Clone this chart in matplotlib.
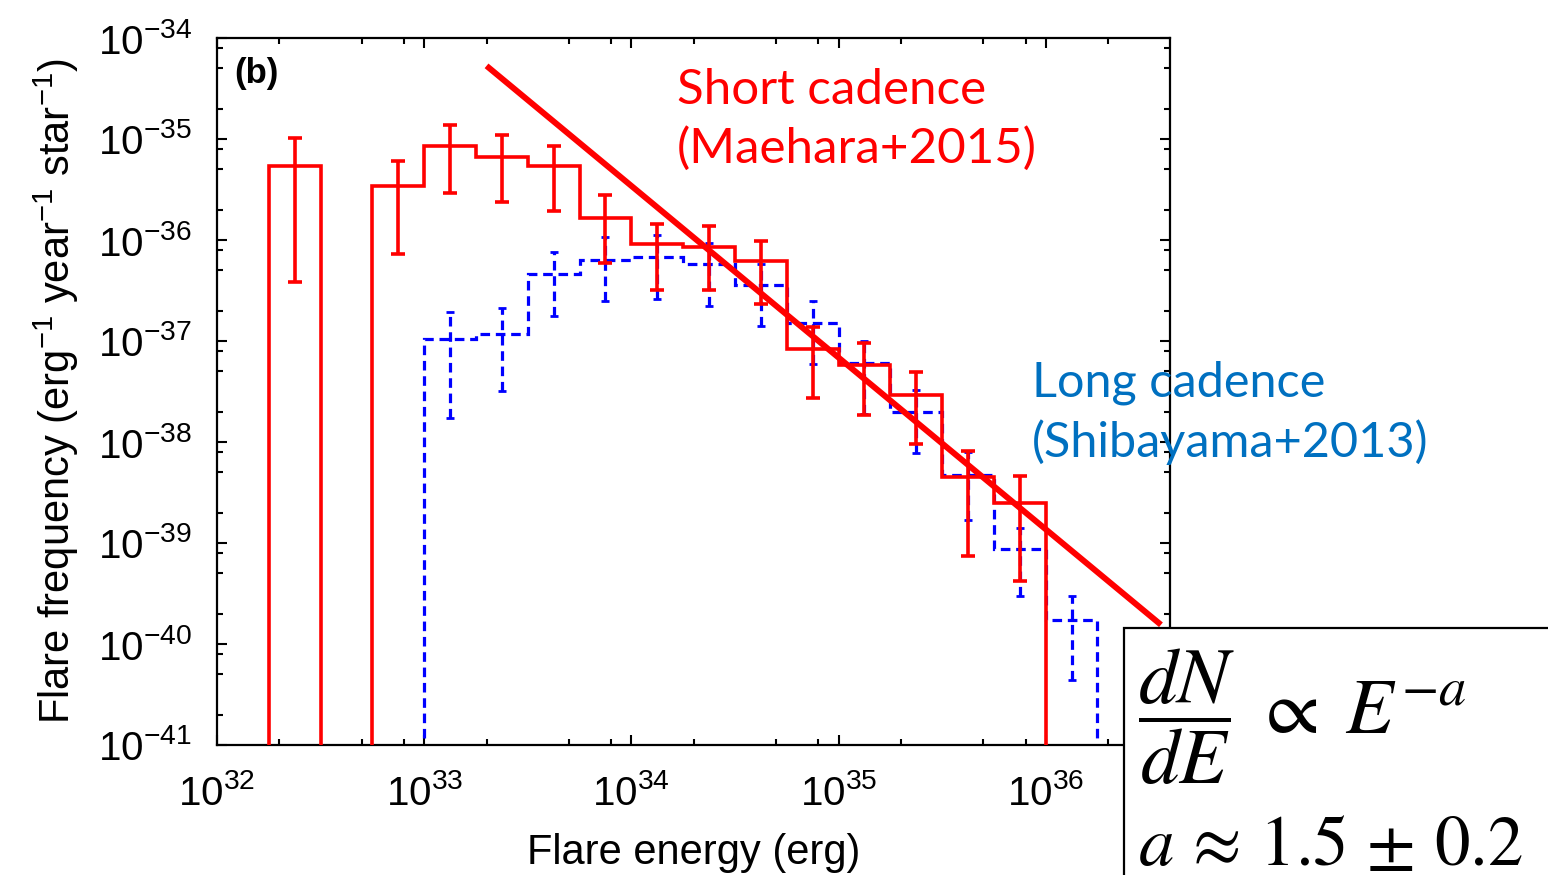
import numpy as np
import matplotlib
matplotlib.use("Agg")
import matplotlib.pyplot as plt
from matplotlib.ticker import LogLocator, NullFormatter, FixedLocator
from matplotlib.patches import Rectangle

# short cadence (Maehara+2015), bins of 0.25 dex in log10(E)
short_log_edges = [32.25, 32.5, 32.75, 33.0, 33.25, 33.5, 33.75, 34.0,
                   34.25, 34.5, 34.75, 35.0, 35.25, 35.5, 35.75, 36.0]
short_freq = [5.4e-36, 0.0, 3.4e-36, 8.5e-36, 6.6e-36, 5.4e-36, 1.66e-36, 9.1e-37,
              8.5e-37, 6.2e-37, 8.3e-38, 5.8e-38, 2.9e-38, 4.5e-39, 2.5e-39]
short_err_hi = [1.02e-35, np.nan, 6.0e-36, 1.38e-35, 1.10e-35, 8.5e-36, 2.8e-36, 1.45e-36,
                1.38e-36, 9.8e-37, 1.38e-37, 9.5e-38, 4.9e-38, 8.1e-39, 4.6e-39]
short_err_lo = [3.8e-37, np.nan, 7.2e-37, 2.95e-36, 2.4e-36, 1.95e-36, 5.9e-37, 3.2e-37,
                3.2e-37, 2.3e-37, 2.7e-38, 1.86e-38, 9.5e-39, 7.4e-40, 4.2e-40]

# long cadence (Shibayama+2013)
long_log_edges = [33.0, 33.25, 33.5, 33.75, 34.0, 34.25, 34.5, 34.75,
                  35.0, 35.25, 35.5, 35.75, 36.0, 36.25]
long_freq = [1.05e-37, 1.17e-37, 4.6e-37, 6.3e-37, 6.8e-37, 5.8e-37, 3.6e-37,
             1.5e-37, 6.0e-38, 2.0e-38, 4.7e-39, 8.7e-40, 1.74e-40]
long_err_hi = [1.95e-37, 2.1e-37, 7.6e-37, 1.07e-36, 1.12e-36, 9.3e-37, 5.8e-37,
               2.5e-37, 1.0e-37, 3.3e-38, 7.9e-39, 1.4e-39, 3.0e-40]
long_err_lo = [1.74e-38, 3.2e-38, 1.78e-37, 2.5e-37, 2.6e-37, 2.2e-37, 1.4e-37,
               5.9e-38, 1.9e-38, 7.8e-39, 1.7e-39, 3.0e-40, 4.4e-41]

# power-law fit line end points
fit_energy = [2.0e33, 3.6e36]
fit_freq = [5.3e-35, 1.55e-40]

RED = "#ff0000"
BLUE = "#0000ff"
FLOOR = 1e-50

plt.rcParams["font.family"] = ["Liberation Sans", "DejaVu Sans"]
plt.rcParams["mathtext.fontset"] = "custom"
plt.rcParams["mathtext.rm"] = "Liberation Sans"
plt.rcParams["mathtext.it"] = "Liberation Sans:italic"
plt.rcParams["mathtext.bf"] = "Liberation Sans:bold"

fig = plt.figure(figsize=(15.48, 8.75), dpi=100)
ax = fig.add_axes([217 / 1548, 1 - 745 / 875, (1170 - 217) / 1548, (745 - 38) / 875])


def edges_and_centers(log_edges):
    e = 10.0 ** np.array(log_edges)
    return e, np.sqrt(e[:-1] * e[1:])


# short cadence histogram + error bars
s_edges, s_cent = edges_and_centers(short_log_edges)
s_vals = np.array(short_freq)
ax.stairs(np.where(s_vals > 0, s_vals, FLOOR), s_edges, baseline=FLOOR,
          color=RED, lw=2.6, zorder=3)
s_hi = np.array(short_err_hi)
s_lo = np.array(short_err_lo)
ok = ~np.isnan(s_hi)
ax.errorbar(s_cent[ok], s_vals[ok], yerr=[s_vals[ok] - s_lo[ok], s_hi[ok] - s_vals[ok]],
            fmt="none", ecolor=RED, elinewidth=2.6, capsize=5, capthick=2.6, zorder=3)

# long cadence histogram (dashed)
l_edges, l_cent = edges_and_centers(long_log_edges)
l_vals = np.array(long_freq)
ax.stairs(l_vals, l_edges, baseline=FLOOR, color=BLUE, lw=2.3,
          linestyle=(0, (3, 1.8)), zorder=2)
eb = ax.errorbar(l_cent, l_vals, yerr=[l_vals - np.array(long_err_lo), np.array(long_err_hi) - l_vals],
                 fmt="none", ecolor=BLUE, elinewidth=2.3, capsize=3, capthick=2.0, zorder=2)
eb[2][0].set_linestyle((0, (3, 1.8)))

# fit
ax.plot(fit_energy, fit_freq, color=RED, lw=4.3, solid_capstyle="butt", zorder=4)

ax.set_xscale("log")
ax.set_yscale("log")
ax.set_xlim(1e32, 10 ** 36.6)
ax.set_ylim(1e-41, 1e-34)

xt = [1e32, 1e33, 1e34, 1e35, 1e36]
yt = [10.0 ** k for k in range(-41, -33)]
ax.xaxis.set_major_locator(FixedLocator(xt))
ax.set_xticklabels([r"$10^{%d}$" % k for k in range(32, 37)])
ax.yaxis.set_major_locator(FixedLocator(yt))
ax.set_yticklabels([r"$10^{%d}$" % k for k in range(-41, -33)])
ax.xaxis.set_minor_locator(LogLocator(base=10, subs=[2, 5, 8], numticks=50))
ax.yaxis.set_minor_locator(LogLocator(base=10, subs=[2, 5, 8], numticks=50))
ax.xaxis.set_minor_formatter(NullFormatter())
ax.yaxis.set_minor_formatter(NullFormatter())
ax.tick_params(which="both", direction="in", top=True, right=True, width=1.5)
ax.tick_params(which="major", length=7, labelsize=29)
ax.tick_params(which="minor", length=4)
ax.tick_params(axis="x", which="major", pad=21)
ax.tick_params(axis="y", which="major", pad=18)
for sp in ax.spines.values():
    sp.set_linewidth(1.6)

ax.set_xlabel("Flare energy (erg)", fontsize=30, labelpad=14)
ax.set_ylabel(r"Flare frequency (erg$^{-1}$ year$^{-1}$ star$^{-1}$)", fontsize=30, labelpad=12)

ax.text(0.018, 0.95, "(b)", transform=ax.transAxes, fontsize=25, fontweight="bold",
        va="center", ha="left")

# annotations
fig.text(677 / 1548, 1 - 104 / 875, "Short cadence", color=RED, fontsize=35.5,
         family="Lato", va="baseline")
fig.text(677 / 1548, 1 - 163 / 875, "(Maehara+2015)", color=RED, fontsize=35.5,
         family="Lato", va="baseline")
fig.text(1032 / 1548, 1 - 396 / 875, "Long cadence", color="#0070c0", fontsize=35,
         family="Lato", va="baseline")
fig.text(1032 / 1548, 1 - 457 / 875, "(Shibayama+2013)", color="#0070c0", fontsize=35,
         family="Lato", va="baseline")

# formula box
fig.patches.append(Rectangle((1124 / 1548, -0.05), 0.4, 0.05 + 1 - 628 / 875,
                             transform=fig.transFigure, facecolor="white",
                             edgecolor="black", lw=1.6, zorder=10))
fig.text(1138 / 1548, 1 - 717 / 875, r"$\dfrac{dN}{dE}\;\propto\;E^{-a}$",
         math_fontfamily="stix", fontsize=56, va="center", ha="left", zorder=11)
fig.text(1138 / 1548, 1 - 865 / 875, r"$a\,\approx\,1.5\,\pm\,0.2$",
         math_fontfamily="stix", fontsize=51, va="baseline", ha="left", zorder=11)

fig.savefig("out.png", dpi=100)
